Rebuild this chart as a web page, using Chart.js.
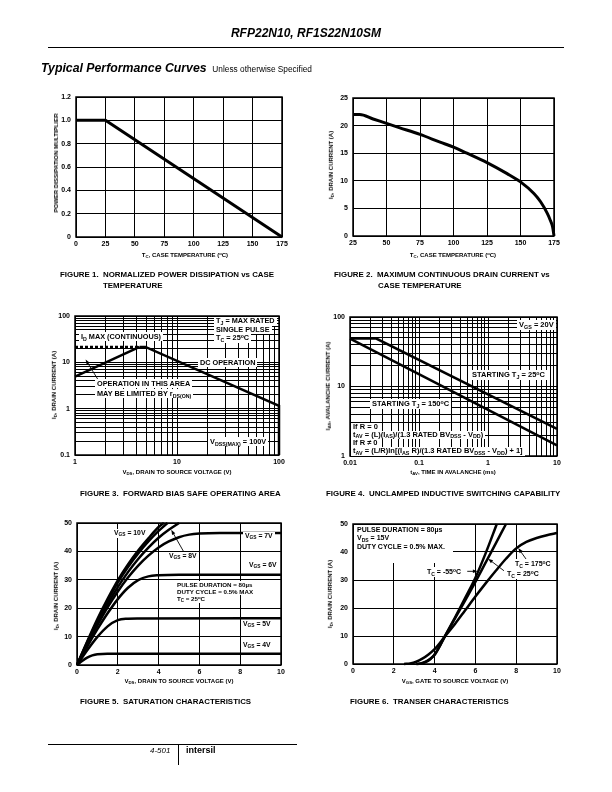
<!DOCTYPE html>
<html>
<head>
<meta charset="utf-8">
<script src="https://cdn.jsdelivr.net/npm/chart.js@4.4.0/dist/chart.umd.min.js"></script>
<style>
    body { margin: 0; background: #fff; }
    #page { position: relative; width: 612px; height: 792px; overflow: hidden; background: #fff; color: #000;
            font-family: "Liberation Sans", Arial, Helvetica, sans-serif; }
    canvas { position: absolute; }
    .t { position: absolute; white-space: nowrap; font-weight: bold; font-size: 6px; line-height: 1; will-change: transform; }
    .wb { background: #fff; padding: 1px 2px; }
    .cap { position: absolute; white-space: nowrap; font-weight: bold; font-size: 7.9px; line-height: 1; will-change: transform; }
    .yt { transform: translate(-50%, -50%) rotate(-90deg); }
    .xt { transform: translateX(-50%); }
    .sb { font-size: .72em; position: relative; top: .3em; }
    .sp { font-size: .7em; position: relative; top: -.45em; }
    .rule { position: absolute; background: #000; height: 1px; }
    .box div { background: #fff; display: table; padding: 0 2px; }
    .f3 { font-size: 7.3px; }
    .f4 { font-size: 7.5px; }
    .f5 { font-size: 6.8px; }
    .f6 { font-size: 7px; }
</style>
</head>
<body>
<div id="page">

    <!-- header -->
    <div class="t" style="left:0;top:27px;width:612px;text-align:center;font-size:12px;font-style:italic;">RFP22N10, RF1S22N10SM</div>
    <div class="rule" style="left:48px;top:47px;width:516px;"></div>
    <div class="t" style="left:41px;top:62px;font-size:12.3px;font-style:italic;">Typical Performance Curves <span style="font-size:8.3px;font-style:normal;font-weight:normal;">&nbsp;Unless otherwise Specified</span></div>

    <canvas id="fig1"></canvas>
    <canvas id="fig2"></canvas>
    <canvas id="fig3"></canvas>
    <canvas id="fig4"></canvas>
    <canvas id="fig5"></canvas>
    <canvas id="fig6"></canvas>

    <!-- FIGURE 1 -->
    <div class="t yt" style="left:56px;top:163px;">POWER DISSIPATION MULTIPLIER</div>
    <div class="t xt" style="left:185px;top:252px;">T<span class="sb">C</span>, CASE TEMPERATURE (<span class="sp">o</span>C)</div>
    <div class="cap" style="left:60px;top:271px;">FIGURE 1.&nbsp; NORMALIZED POWER DISSIPATION vs CASE</div>
    <div class="cap" style="left:103px;top:282px;">TEMPERATURE</div>

    <!-- FIGURE 2 -->
    <div class="t yt" style="left:331px;top:165px;">I<span class="sb">D</span>, DRAIN CURRENT (A)</div>
    <div class="t xt" style="left:453px;top:252px;">T<span class="sb">C</span>, CASE TEMPERATURE (<span class="sp">o</span>C)</div>
    <div class="cap" style="left:334px;top:271px;">FIGURE 2.&nbsp; MAXIMUM CONTINUOUS DRAIN CURRENT vs</div>
    <div class="cap" style="left:378px;top:282px;">CASE TEMPERATURE</div>

    <!-- FIGURE 3 -->
    <div class="t box f3" style="left:214px;top:317px;line-height:8.5px;">
        <div>T<span class="sb">J</span> = MAX RATED</div>
        <div>SINGLE PULSE</div>
        <div>T<span class="sb">C</span> = 25<span class="sp">o</span>C</div>
    </div>
    <div class="t wb f3" style="left:79px;top:332px;">I<span class="sb">D</span> MAX (CONTINUOUS)</div>
    <div class="t wb f3" style="left:198px;top:358px;">DC OPERATION</div>
    <div class="t wb f3" style="left:95px;top:379px;">OPERATION IN THIS AREA</div>
    <div class="t wb f3" style="left:95px;top:389px;">MAY BE LIMITED BY r<span class="sb">DS(ON)</span></div>
    <div class="t wb f3" style="left:208px;top:437px;">V<span class="sb">DSS(MAX)</span> = 100V</div>
    <div class="t yt" style="left:54px;top:385px;">I<span class="sb">D</span>, DRAIN CURRENT (A)</div>
    <div class="t xt" style="left:177px;top:469px;">V<span class="sb">DS</span>, DRAIN TO SOURCE VOLTAGE (V)</div>
    <div class="cap" style="left:80px;top:490px;">FIGURE 3.&nbsp; FORWARD BIAS SAFE OPERATING AREA</div>

    <!-- FIGURE 4 -->
    <div class="t wb f4" style="right:56px;top:320px;">V<span class="sb">GS</span> = 20V</div>
    <div class="t wb f4" style="left:470px;top:370px;">STARTING T<span class="sb">J</span> = 25<span class="sp">o</span>C</div>
    <div class="t wb f4" style="left:370px;top:399px;">STARTING T<span class="sb">J</span> = 150<span class="sp">o</span>C</div>
    <div class="t box f4" style="left:351px;top:423px;line-height:7.7px;">
        <div>If R = 0</div>
        <div>t<span class="sb">AV</span> = (L)(I<span class="sb">AS</span>)/(1.3 RATED BV<span class="sb">DSS</span> - V<span class="sb">DD</span>)</div>
        <div>If R &ne; 0</div>
        <div>t<span class="sb">AV</span> = (L/R)ln[(I<span class="sb">AS</span> R)/(1.3 RATED BV<span class="sb">DSS</span> - V<span class="sb">DD</span>) + 1]</div>
    </div>
    <div class="t yt" style="left:328px;top:386px;">I<span class="sb">AS</span>, AVALANCHE CURRENT (A)</div>
    <div class="t xt" style="left:453px;top:469px;">t<span class="sb">AV</span>, TIME IN AVALANCHE (ms)</div>
    <div class="cap" style="left:326px;top:490px;">FIGURE 4.&nbsp; UNCLAMPED INDUCTIVE SWITCHING CAPABILITY</div>

    <!-- FIGURE 5 -->
    <div class="t wb f5" style="left:112px;top:529px;">V<span class="sb">GS</span> = 10V</div>
    <div class="t wb f5" style="left:167px;top:552px;">V<span class="sb">GS</span> = 8V</div>
    <div class="t wb f5" style="left:243px;top:532px;">V<span class="sb">GS</span> = 7V</div>
    <div class="t wb f5" style="left:247px;top:561px;">V<span class="sb">GS</span> = 6V</div>
    <div class="t wb f5" style="left:241px;top:620px;">V<span class="sb">GS</span> = 5V</div>
    <div class="t wb f5" style="left:241px;top:641px;">V<span class="sb">GS</span> = 4V</div>
    <div class="t box" style="left:175px;top:581px;line-height:7px;font-size:6.2px;">
        <div>PULSE DURATION = 80&micro;s</div>
        <div>DUTY CYCLE = 0.5% MAX</div>
        <div>T<span class="sb">C</span> = 25<span class="sp">o</span>C</div>
    </div>
    <div class="t yt" style="left:56px;top:596px;">I<span class="sb">D</span>, DRAIN CURRENT (A)</div>
    <div class="t xt" style="left:179px;top:678px;">V<span class="sb">DS</span>, DRAIN TO SOURCE VOLTAGE (V)</div>
    <div class="cap" style="left:80px;top:698px;">FIGURE 5.&nbsp; SATURATION CHARACTERISTICS</div>

    <!-- FIGURE 6 -->
    <div class="t f6" style="left:354px;top:525px;width:96px;height:37px;background:#fff;line-height:8.3px;padding:1px 0 0 3px;">
        PULSE DURATION = 80&micro;s<br>V<span class="sb">DS</span> = 15V<br>DUTY CYCLE = 0.5% MAX.
    </div>
    <div class="t wb f6" style="left:425px;top:567px;">T<span class="sb">C</span> = -55<span class="sp">o</span>C</div>
    <div class="t wb f6" style="left:513px;top:559px;">T<span class="sb">C</span> = 175<span class="sp">o</span>C</div>
    <div class="t wb f6" style="left:505px;top:569px;">T<span class="sb">C</span> = 25<span class="sp">o</span>C</div>
    <div class="t yt" style="left:330px;top:594px;">I<span class="sb">D</span>, DRAIN CURRENT (A)</div>
    <div class="t xt" style="left:455px;top:678px;">V<span class="sb">GS</span>, GATE TO SOURCE VOLTAGE (V)</div>
    <div class="cap" style="left:350px;top:698px;">FIGURE 6.&nbsp; TRANSER CHARACTERISTICS</div>

    <!-- footer -->
    <div class="rule" style="left:48px;top:744px;width:249px;"></div>
    <div class="rule" style="left:178px;top:744px;width:1px;height:21px;"></div>
    <div class="t" style="left:150px;top:747px;font-size:8px;font-weight:normal;font-style:italic;">4-501</div>
    <div class="t" style="left:186px;top:746px;font-size:9px;">intersil</div>
</div>

<script>
// ================= DATA =================

// Figure 1 - normalized power dissipation vs case temperature
const fig1Temp = [0, 25, 175];
const fig1Mult = [1.0, 1.0, 0];
const fig1XTicks = ["0", "25", "50", "75", "100", "125", "150", "175"];
const fig1YTicks = ["0", "0.2", "0.4", "0.6", "0.8", "1.0", "1.2"];

// Figure 2 - max continuous drain current vs case temperature
const fig2Temp = [25, 30, 40, 50, 60, 75, 90, 100, 110, 125, 140, 150, 160, 165, 170, 172, 174, 175];
const fig2Amps = [22, 22, 21.2, 20.4, 19.6, 18.4, 17.0, 16.1, 15.0, 13.3, 11.3, 9.8, 7.7, 6.2, 4.1, 3.0, 1.6, 0];
const fig2XTicks = ["25", "50", "75", "100", "125", "150", "175"];
const fig2YTicks = ["0", "5", "10", "15", "20", "25"];

// Figure 3 - forward bias safe operating area (log-log)
const fig3RdsVolts = [1, 4.3];
const fig3RdsAmps = [4.9, 21.5];
const fig3DcVolts = [4.3, 4.9, 100, 100];
const fig3DcAmps = [21.5, 21.5, 1.15, 0.1];
const fig3MaxVolts = [1, 4.3];
const fig3MaxAmps = [21.5, 21.5];
const fig3XTicks = [1, 10, 100];
const fig3YTicks = [0.1, 1, 10, 100];

// Figure 4 - unclamped inductive switching capability (log-log)
const fig4Tav25 = [0.01, 0.024, 10];
const fig4Ias25 = [49, 49, 2.45];
const fig4Tav150 = [0.01, 10];
const fig4Ias150 = [49, 1.42];
const fig4XTicks = [0.01, 0.1, 1, 10];
const fig4YTicks = [1, 10, 100];

// Figure 5 - saturation characteristics
const fig5Vds10 = [0, 0.5, 1, 1.5, 2, 2.5, 3, 3.5, 4, 4.26];
const fig5Id10 = [0, 8.3, 16.2, 23.3, 29.8, 35.4, 40.3, 44.6, 48.6, 50];
const fig5Vds9 = [0, 0.5, 1, 1.5, 2, 2.5, 3, 3.5, 4, 4.44];
const fig5Id9 = [0, 8.0, 15.6, 22.6, 29.0, 34.5, 39.3, 43.5, 47.2, 50];
const fig5Vds8 = [0, 0.5, 1, 1.5, 2, 2.5, 3, 3.5, 4, 4.5, 5];
const fig5Id8 = [0, 7.6, 14.8, 21.4, 27.4, 32.7, 37.3, 41.3, 44.8, 47.6, 50];
const fig5Vds7 = [0, 0.5, 1, 1.5, 2, 2.5, 3, 3.5, 4, 4.5, 5, 5.5, 6, 7, 10];
const fig5Id7 = [0, 7.2, 14.0, 20.3, 25.9, 30.8, 35.0, 38.5, 41.4, 43.5, 45.0, 45.9, 46.3, 46.5, 46.5];
const fig5Vds6 = [0, 0.5, 1, 1.5, 2, 2.5, 3, 3.5, 4, 5, 10];
const fig5Id6 = [0, 6.5, 12.6, 18.2, 23.2, 27.2, 29.9, 31.2, 31.6, 31.8, 31.8];
const fig5Vds5 = [0, 0.5, 1, 1.5, 2, 2.5, 3, 10];
const fig5Id5 = [0, 5.2, 9.9, 13.6, 15.8, 16.3, 16.4, 16.5];
const fig5Vds4 = [0, 0.25, 0.5, 0.75, 1, 1.5, 10];
const fig5Id4 = [0, 1.4, 2.6, 3.4, 3.8, 3.95, 4.0];
const fig5XTicks = ["0", "2", "4", "6", "8", "10"];
const fig5YTicks = ["0", "10", "20", "30", "40", "50"];

// Figure 6 - transfer characteristics
const fig6VgsM55 = [3.1, 3.4, 3.7, 4.0, 4.3, 4.6, 5.0, 5.5, 6.0, 6.5, 7.05];
const fig6IdM55 = [0, 0.4, 1.4, 3.2, 7.0, 11.2, 16.6, 23.6, 30.8, 39.5, 50];
const fig6Vgs25 = [3.2, 3.5, 3.8, 4.1, 4.4, 4.7, 5.0, 5.5, 6.0, 6.5, 7.0, 7.5];
const fig6Id25 = [0, 0.5, 1.8, 4.5, 8.5, 12.4, 16.3, 22.7, 29.3, 36.2, 43.1, 50];
const fig6Vgs175 = [2.5, 2.8, 3.1, 3.4, 3.7, 4.0, 4.5, 5.0, 5.5, 6.0, 6.5, 7.0, 7.5, 8.0, 8.5, 9.0, 9.5, 10];
const fig6Id175 = [0, 0.2, 0.8, 1.9, 3.4, 5.3, 9.8, 14.3, 19.2, 24.1, 28.8, 33.3, 37.6, 41.3, 43.6, 45.0, 46.0, 46.8];
const fig6XTicks = ["0", "2", "4", "6", "8", "10"];
const fig6YTicks = ["0", "10", "20", "30", "40", "50"];

// arrows that tie labels to curves, in data units: [fromX, fromY, tipX, tipY]
const fig3Arrows = [[1.72, 3.9, 1.27, 11.5]];
const fig5Arrows = [[5.3, 39, 4.62, 47.6]];
const fig6Arrows = [[5.6, 33.1, 6.12, 33.1], [7.4, 33.3, 6.62, 37.6], [8.5, 37.3, 8.1, 41.4]];


//
// ================= HELPERS =================
//
const FONT = "'Liberation Sans', Arial, Helvetica, sans-serif";
const tickFont = { family: FONT, size: 7, weight: "bold" };

function pts(xs, ys) {
    return xs.map((x, i) => ({ x: x, y: ys[i] }));
}

function curve(xs, ys, extra) {
    return Object.assign({
        data: pts(xs, ys),
        borderColor: "#000",
        borderWidth: 2.5,
        pointRadius: 0,
        fill: false,
        clip: 4,
        cubicInterpolationMode: "monotone"
    }, extra || {});
}

// grid positions 1..9 per decade
function logGrid(min, max) {
    const out = [];
    for (let e = Math.floor(Math.log10(min)); Math.pow(10, e) <= max; e++) {
        for (let k = 1; k <= 9; k++) {
            const v = parseFloat((k * Math.pow(10, e)).toPrecision(6));
            if (v >= min * 0.9999 && v <= max * 1.0001) out.push(v);
        }
    }
    return out;
}

function linAxis(min, max, step, labels, isX) {
    return {
        type: "linear", min: min, max: max,
        ticks: {
            stepSize: step, font: tickFont, color: "#000",
            padding: isX ? 3 : 5, maxRotation: 0, autoSkip: false,
            callback: (v, i) => labels[i]
        },
        grid: { color: "#000", lineWidth: 1, drawTicks: false },
        border: { display: false },
        afterFit: isX ? s => { s.height = 20; } : s => { s.width = 40; }
    };
}

function logAxis(min, max, labels, isX) {
    return {
        type: "logarithmic", min: min, max: max,
        afterBuildTicks: s => { s.ticks = logGrid(min, max).map(v => ({ value: v })); },
        ticks: {
            font: tickFont, color: "#000",
            padding: isX ? 3 : 5, maxRotation: 0, autoSkip: false,
            callback: v => {
                const hit = labels.find(l => Math.abs(v / l - 1) < 1e-6);
                return hit === undefined ? "" : String(hit);
            }
        },
        grid: { color: "#000", lineWidth: 1, drawTicks: false },
        border: { display: false },
        afterFit: isX ? s => { s.height = 20; } : s => { s.width = 40; }
    };
}

const framePlugin = {
    id: "frame",
    beforeDatasetsDraw(chart) {
        const a = chart.chartArea;
        const ctx = chart.ctx;
        ctx.save();
        ctx.strokeStyle = "#000";
        ctx.lineWidth = 1.5;
        ctx.strokeRect(a.left, a.top, a.right - a.left, a.bottom - a.top);
        ctx.restore();
    }
};

const arrowPlugin = {
    id: "arrows",
    afterDatasetsDraw(chart, args, opts) {
        const list = opts.list || [];
        const xs = chart.scales.x, ys = chart.scales.y;
        const ctx = chart.ctx;
        list.forEach(a => {
            const x1 = xs.getPixelForValue(a[0]), y1 = ys.getPixelForValue(a[1]);
            const x2 = xs.getPixelForValue(a[2]), y2 = ys.getPixelForValue(a[3]);
            const ang = Math.atan2(y2 - y1, x2 - x1);
            ctx.save();
            ctx.strokeStyle = "#000";
            ctx.fillStyle = "#000";
            ctx.lineWidth = 0.9;
            ctx.beginPath();
            ctx.moveTo(x1, y1);
            ctx.lineTo(x2 - 3 * Math.cos(ang), y2 - 3 * Math.sin(ang));
            ctx.stroke();
            ctx.beginPath();
            ctx.moveTo(x2, y2);
            ctx.lineTo(x2 - 5 * Math.cos(ang) + 1.8 * Math.sin(ang), y2 - 5 * Math.sin(ang) - 1.8 * Math.cos(ang));
            ctx.lineTo(x2 - 5 * Math.cos(ang) - 1.8 * Math.sin(ang), y2 - 5 * Math.sin(ang) + 1.8 * Math.cos(ang));
            ctx.closePath();
            ctx.fill();
            ctx.restore();
        });
    }
};

// box = plot area on the page
function buildChart(id, box, xAxis, yAxis, datasets, arrows) {
    const c = document.getElementById(id);
    c.width = box.w + 58;
    c.height = box.h + 32;
    c.style.left = (box.left - 40) + "px";
    c.style.top = (box.top - 12) + "px";
    c.style.width = c.width + "px";
    c.style.height = c.height + "px";

    return new Chart(c.getContext("2d"), {
        type: "line",
        data: { datasets: datasets },
        options: {
            responsive: false,
            maintainAspectRatio: false,
            animation: false,
            devicePixelRatio: 1,
            events: [],
            parsing: false,
            layout: { padding: { left: 0, top: 12, right: 18, bottom: 0 } },
            plugins: {
                legend: { display: false },
                tooltip: { enabled: false },
                arrows: { list: arrows || [] }
            },
            scales: { x: xAxis, y: yAxis }
        },
        plugins: [framePlugin, arrowPlugin]
    });
}


//
// ================= CHARTS =================
//
buildChart("fig1", { left: 76, top: 97, w: 206, h: 140 },
    linAxis(0, 175, 25, fig1XTicks, true),
    linAxis(0, 1.2, 0.2, fig1YTicks, false),
    [curve(fig1Temp, fig1Mult, { cubicInterpolationMode: "default", tension: 0, borderWidth: 3 })]);

buildChart("fig2", { left: 353, top: 98, w: 201, h: 138 },
    linAxis(25, 175, 25, fig2XTicks, true),
    linAxis(0, 25, 5, fig2YTicks, false),
    [curve(fig2Temp, fig2Amps, { borderWidth: 3 })]);

buildChart("fig3", { left: 75, top: 316, w: 204, h: 139 },
    logAxis(1, 100, fig3XTicks, true),
    logAxis(0.1, 100, fig3YTicks, false),
    [
        curve(fig3MaxVolts, fig3MaxAmps, { cubicInterpolationMode: "default", tension: 0, borderDash: [3, 2] }),
        curve(fig3RdsVolts, fig3RdsAmps, { cubicInterpolationMode: "default", tension: 0 }),
        curve(fig3DcVolts, fig3DcAmps, { cubicInterpolationMode: "default", tension: 0 })
    ],
    fig3Arrows);

buildChart("fig4", { left: 350, top: 317, w: 207, h: 139 },
    logAxis(0.01, 10, fig4XTicks, true),
    logAxis(1, 100, fig4YTicks, false),
    [
        curve(fig4Tav25, fig4Ias25, { cubicInterpolationMode: "default", tension: 0 }),
        curve(fig4Tav150, fig4Ias150, { cubicInterpolationMode: "default", tension: 0 })
    ]);

buildChart("fig5", { left: 77, top: 523, w: 204, h: 142 },
    linAxis(0, 10, 2, fig5XTicks, true),
    linAxis(0, 50, 10, fig5YTicks, false),
    [
        curve(fig5Vds10, fig5Id10),
        curve(fig5Vds9, fig5Id9),
        curve(fig5Vds8, fig5Id8),
        curve(fig5Vds7, fig5Id7),
        curve(fig5Vds6, fig5Id6),
        curve(fig5Vds5, fig5Id5),
        curve(fig5Vds4, fig5Id4)
    ],
    fig5Arrows);

buildChart("fig6", { left: 353, top: 524, w: 204, h: 140 },
    linAxis(0, 10, 2, fig6XTicks, true),
    linAxis(0, 50, 10, fig6YTicks, false),
    [
        curve(fig6VgsM55, fig6IdM55),
        curve(fig6Vgs25, fig6Id25),
        curve(fig6Vgs175, fig6Id175)
    ],
    fig6Arrows);
</script>
</body>
</html>
